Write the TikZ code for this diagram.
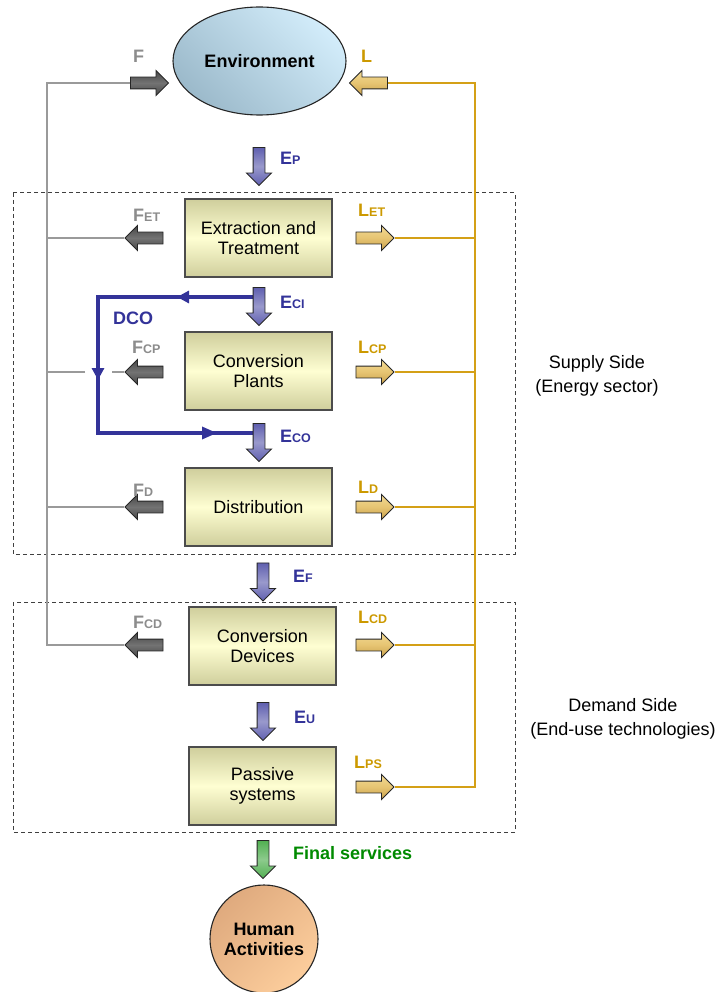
\documentclass[tikz,border=0pt]{standalone}
\usepackage{fontspec}
\setmainfont{Liberation Sans}
\usetikzlibrary{arrows.meta,shapes.geometric,shapes.arrows,decorations.markings}

\definecolor{boxedge}{HTML}{CFCE9C}
\definecolor{boxmid}{HTML}{FEFED2}
\definecolor{envlight}{HTML}{D2ECFA}
\definecolor{envdark}{HTML}{9CBACB}
\definecolor{humlight}{HTML}{FCCD9C}
\definecolor{humdark}{HTML}{DFAA7E}
\definecolor{labgray}{HTML}{8C8C8C}
\definecolor{labgold}{HTML}{CC9900}
\definecolor{labblue}{HTML}{333399}
\definecolor{labgreen}{HTML}{008A00}
\definecolor{linegray}{HTML}{9A9A9A}
\definecolor{linegold}{HTML}{D4A017}
\definecolor{goldtop}{HTML}{F2DA94}
\definecolor{goldmid}{HTML}{E6C472}
\definecolor{goldbot}{HTML}{C9A14C}

\newcommand{\flowlab}[2]{#1{\fontsize{12.5}{12.5}\selectfont#2}}

\begin{document}
\begin{tikzpicture}[x=1pt,y=-1pt,
  font=\fontsize{18}{20}\selectfont,
  stagebox/.style={draw=black!70, line width=1.1pt, inner sep=0pt, minimum width=147pt,
    minimum height=78pt, align=center, top color=boxedge, bottom color=boxedge, middle color=boxmid},
  flowarrow/.style={single arrow, draw=black!85, line width=0.9pt, inner sep=0pt,
    text height=11pt, text depth=0pt, minimum height=38pt, single arrow head extend=6.5pt},
  grayarrow/.style={flowarrow, top color=black!72, bottom color=black!72, middle color=black!55},
  goldarrow/.style={flowarrow, top color=goldtop, bottom color=goldbot, middle color=goldmid},
  bluearrow/.style={flowarrow, rotate=-90, top color=labblue!78, bottom color=labblue!78, middle color=labblue!50},
  greenarrow/.style={flowarrow, rotate=-90, top color=labgreen!68, bottom color=labgreen!68, middle color=labgreen!45},
  flab/.style={anchor=west, inner sep=0pt, font=\fontsize{18}{20}\selectfont\bfseries},
  fline/.style={draw=linegray, line width=2pt},
  lline/.style={draw=linegold, line width=2.3pt},
  dcoline/.style={draw=labblue, line width=3.2pt},
  sidebox/.style={draw=black!75, line width=1pt, dash pattern=on 4pt off 3pt}
]
\useasboundingbox (0,0) rectangle (718,992);

% supply and demand side
\draw[sidebox] (13,193) rectangle (515,554);
\draw[sidebox] (13,602) rectangle (515,832);
\node[inner sep=0pt] (supply) at (597,364) {Supply Side};
\node[inner sep=0pt] (supplysub) at (597,388) {(Energy sector)};
\node[inner sep=0pt] (demand) at (623,705) {Demand Side};
\node[inner sep=0pt] (demandsub) at (623,731) {(End-use technologies)};

% DCO loop
\coordinate (dcoin) at (253,297);
\coordinate (dcoNW) at (98,297);
\coordinate (dcoSW) at (98,433);
\coordinate (dcoout) at (253,433);
\draw[dcoline, postaction={decorate}, decoration={markings,
    mark=at position 76pt with {\arrow{Triangle[length=12pt,width=12pt]}},
    mark=at position 238pt with {\arrow{Triangle[length=12pt,width=12pt]}},
    mark=at position 410pt with {\arrow{Triangle[length=15pt,width=12pt]}}}]
  (dcoin) -- (dcoNW) -- (dcoSW) -- (dcoout);
\node[flab, text=labblue] (ldco) at (113,318) {DCO};

% end nodes
\node[ellipse, draw=black!85, line width=1.1pt, minimum width=173pt, minimum height=108pt,
  top color=envlight, bottom color=envdark, shading angle=-45, font=\fontsize{18}{20}\selectfont\bfseries]
  (env) at (259.5,61) {Environment};
\node[circle, draw=black!85, line width=1.1pt, minimum size=108pt, inner sep=0pt, align=center,
  top color=humdark, bottom color=humlight, shading angle=45, font=\fontsize{18}{20}\selectfont\bfseries]
  (human) at (264,939) {Human\\Activities};

% stages
\node[stagebox] (extract) at (258.5,238) {Extraction and\\Treatment};
\node[stagebox] (convplant) at (258.5,371) {Conversion\\Plants};
\node[stagebox] (distrib) at (258.5,507) {Distribution};
\node[stagebox] (convdev) at (262.5,646) {Conversion\\Devices};
\node[stagebox] (passive) at (262.5,786) {Passive\\systems};

% energy flows
\node[bluearrow] (aEP) at (259,163.5) {};
\node[bluearrow] (aECI) at (259,303.5) {};
\node[bluearrow] (aECO) at (259,439.5) {};
\node[bluearrow] (aEF) at (263,579) {};
\node[bluearrow] (aEU) at (263,718.5) {};
\node[greenarrow] (aFS) at (263,856.5) {};
\node[flab, text=labblue] (lEP) at (280,158) {\flowlab{E}{P}};
\node[flab, text=labblue] (lECI) at (280,302) {\flowlab{E}{CI}};
\node[flab, text=labblue] (lECO) at (280,436) {\flowlab{E}{CO}};
\node[flab, text=labblue] (lEF) at (293,576) {\flowlab{E}{F}};
\node[flab, text=labblue] (lEU) at (294,717) {\flowlab{E}{U}};
\node[flab, text=labgreen] (lFS) at (293,853) {Final services};

% F flows
\node[grayarrow] (aF) at (146.5,83) {};
\node[grayarrow, rotate=180] (aFET) at (147,238) {};
\node[grayarrow, rotate=180] (aFCP) at (147,372) {};
\node[grayarrow, rotate=180] (aFD) at (147,507) {};
\node[grayarrow, rotate=180] (aFCD) at (147,645) {};
\node[flab, text=labgray] (lF) at (133,56) {F};
\node[flab, text=labgray] (lFET) at (133,215) {\flowlab{F}{ET}};
\node[flab, text=labgray] (lFCP) at (132,347) {\flowlab{F}{CP}};
\node[flab, text=labgray] (lFD) at (133,490) {\flowlab{F}{D}};
\node[flab, text=labgray] (lFCD) at (133,622) {\flowlab{F}{CD}};

\coordinate (ftop) at (47,83);
\coordinate (fbot) at (47,645);
\coordinate (fgapL) at (85,372);
\coordinate (fgapR) at (112,372);
\draw[fline] (aF.tail) -- (ftop) -- (fbot) -- (aFCD.tip);
\draw[fline] (aFET.tip) -- (aFET.tip -| ftop);
\draw[fline] (aFCP.tip) -- (fgapR);
\draw[fline] (fgapL) -- (fgapL -| ftop);
\draw[fline] (aFD.tip) -- (aFD.tip -| ftop);

% L flows
\node[goldarrow, rotate=180] (aL) at (371.5,83) {};
\node[goldarrow] (aLET) at (372,238) {};
\node[goldarrow] (aLCP) at (372,372) {};
\node[goldarrow] (aLD) at (372,507) {};
\node[goldarrow] (aLCD) at (372,645) {};
\node[goldarrow] (aLPS) at (372,787) {};
\node[flab, text=labgold] (lL) at (361,56) {L};
\node[flab, text=labgold] (lLET) at (358,210) {\flowlab{L}{ET}};
\node[flab, text=labgold] (lLCP) at (358,347) {\flowlab{L}{CP}};
\node[flab, text=labgold] (lLD) at (358,487) {\flowlab{L}{D}};
\node[flab, text=labgold] (lLCD) at (358,617) {\flowlab{L}{CD}};
\node[flab, text=labgold] (lLPS) at (354,762) {\flowlab{L}{PS}};

\coordinate (ltop) at (475,83);
\coordinate (lbot) at (475,787);
\draw[lline] (aL.tail) -- (ltop) -- (lbot) -- (aLPS.tip);
\draw[lline] (aLET.tip) -- (aLET.tip -| ltop);
\draw[lline] (aLCP.tip) -- (aLCP.tip -| ltop);
\draw[lline] (aLD.tip) -- (aLD.tip -| ltop);
\draw[lline] (aLCD.tip) -- (aLCD.tip -| ltop);
\end{tikzpicture}
\end{document}
